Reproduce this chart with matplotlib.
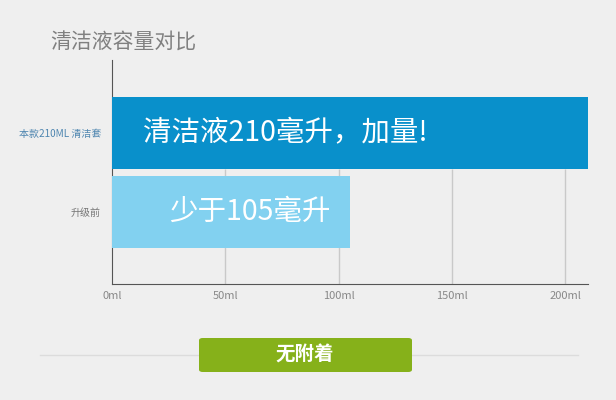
import matplotlib.pyplot as plt
from matplotlib.patches import FancyBboxPatch

plt.rcParams['font.family'] = ['Noto Sans CJK SC', 'DejaVu Sans']

title = "清洁液容量对比"
categories = ["本款210ML 清洁套", "升级前"]
values = [210, 105]
bar_texts = ["清洁液210毫升，加量!", "少于105毫升"]
tick_values = [0, 50, 100, 150, 200]
tick_labels = ["0ml", "50ml", "100ml", "150ml", "200ml"]
badge_text = "无附着"

bg = '#efefef'
bar_colors = ['#0990cb', '#82d1f0']
label_colors = ['#4f86b0', '#777777']
bar_h = 0.91

fig = plt.figure(figsize=(6.16, 4.0), dpi=100, facecolor=bg)
ax = fig.add_axes([112 / 616, 1 - 284 / 400, 476 / 616, 224 / 400])
ax.set_facecolor(bg)

ypos = list(range(len(categories)))
ax.barh(ypos, values, height=bar_h, color=bar_colors, zorder=3)
ax.set_xlim(0, 210)
ax.set_ylim(1.91, -0.924)

# grid lines only below the top bar
ax.vlines(tick_values[1:], ypos[0] + bar_h / 2, 1.91, color='#c9c9c9', lw=1, zorder=1)

for y, txt, x0 in zip(ypos, bar_texts, [13.5, 25]):
    ax.text(x0, y, txt, color='white', fontsize=20.5, weight='medium',
            va='center', ha='left', zorder=4)

ax.set_yticks(ypos)
ax.set_yticklabels(categories, fontsize=7.2)
for lbl, c in zip(ax.get_yticklabels(), label_colors):
    lbl.set_color(c)
ax.tick_params(axis='y', length=0, pad=8)

ax.set_xticks(tick_values)
ax.set_xticklabels(tick_labels, fontsize=8, color='#888888')
ax.tick_params(axis='x', length=0, pad=5)

for s in ['top', 'right']:
    ax.spines[s].set_visible(False)
ax.spines['left'].set_color('#555555')
ax.spines['bottom'].set_color('#555555')
ax.spines['bottom'].set_bounds(0, 210)

fig.text(50 / 616, 1 - 43 / 400, title, fontsize=15, color='#808080', va='center', ha='left')

# separator line and green badge
fig.add_artist(plt.Line2D([40 / 616, 578 / 616], [1 - 355 / 400] * 2,
                          color='#dcdcdc', lw=1, zorder=0.5))
badge = FancyBboxPatch((199 / 616, 1 - 372 / 400), 213 / 616, 34 / 400,
                       boxstyle='round,pad=0,rounding_size=0.006',
                       transform=fig.transFigure, facecolor='#86b11a', edgecolor='none',
                       zorder=2)
fig.add_artist(badge)
fig.text(305 / 616, 1 - 355 / 400, badge_text, fontsize=14, color='white', weight='bold',
         ha='center', va='center', zorder=3)

fig.savefig('out.png', dpi=100, facecolor=bg)
